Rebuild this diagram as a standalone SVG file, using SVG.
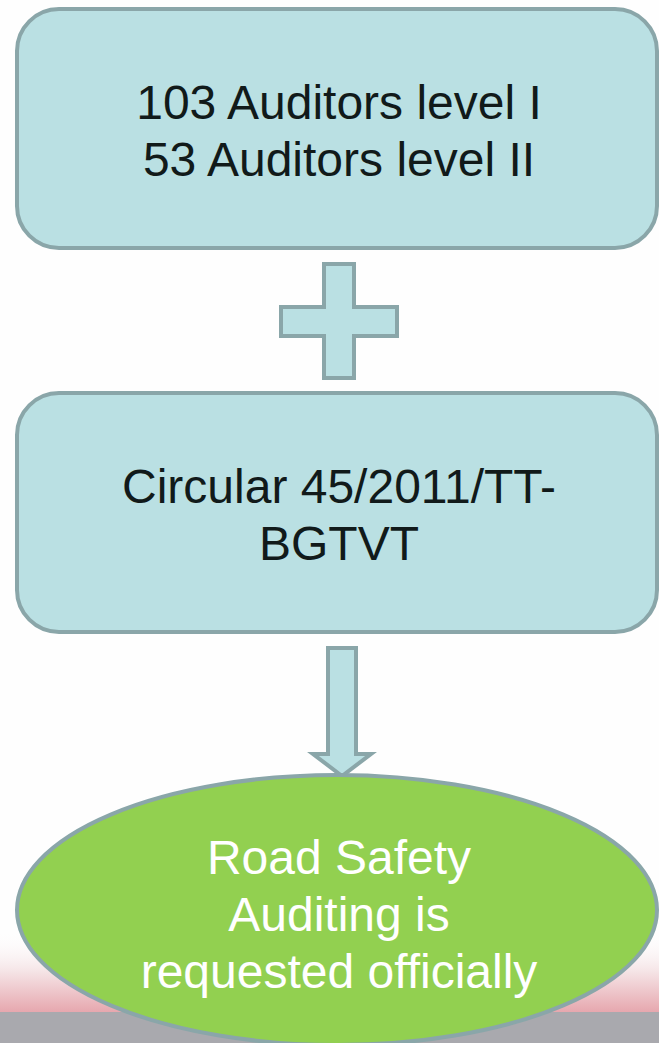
<svg xmlns="http://www.w3.org/2000/svg" width="659" height="1043" viewBox="0 0 659 1043">
<style>
.box{fill:#bae0e3;stroke:#8aa6a9;stroke-width:4}
.t{font-family:"Liberation Sans",Arial,sans-serif;font-size:48px;text-anchor:middle;fill:#111a1a}
.w{fill:#ffffff}
</style>
<defs>
<linearGradient id="bg" x1="0" y1="0" x2="0" y2="1">
<stop offset="0" stop-color="#ffffff" stop-opacity="0"/>
<stop offset="0.5" stop-color="#f5e4e6"/>
<stop offset="1" stop-color="#e6a6ad"/>
</linearGradient>
</defs>
<g id="background">
<rect width="659" height="1043" fill="#fefefe"/>
<rect x="0" y="930" width="659" height="83" fill="url(#bg)"/>
<rect x="0" y="1012" width="659" height="31" fill="#a9a9ae"/>
</g>
<g id="node-auditors">
<rect class="box" x="17" y="9" width="640" height="239" rx="42" ry="42"/>
<text class="t" x="339" y="119">103 Auditors level I</text>
<text class="t" x="339" y="176">53 Auditors level II</text>
</g>
<g id="connectors">
<path class="box" d="M324,264 H354 V307 H397 V336 H354 V378 H324 V336 H281 V307 H324 Z"/>
<path class="box" d="M328,648 H356 V754 H371 L342,776 L313,754 H328 Z"/>
</g>
<g id="node-circular">
<rect class="box" x="17" y="393" width="640" height="239" rx="42" ry="42"/>
<text class="t" x="339" y="503">Circular 45/2011/TT-</text>
<text class="t" x="339" y="560">BGTVT</text>
</g>
<g id="node-rsa">
<ellipse cx="337" cy="910" rx="320" ry="135" fill="#92d050" stroke="#8aa6a9" stroke-width="4"/>
<text class="t w" x="339" y="874">Road Safety</text>
<text class="t w" x="339" y="931">Auditing is</text>
<text class="t w" x="339" y="988">requested officially</text>
</g>
</svg>
